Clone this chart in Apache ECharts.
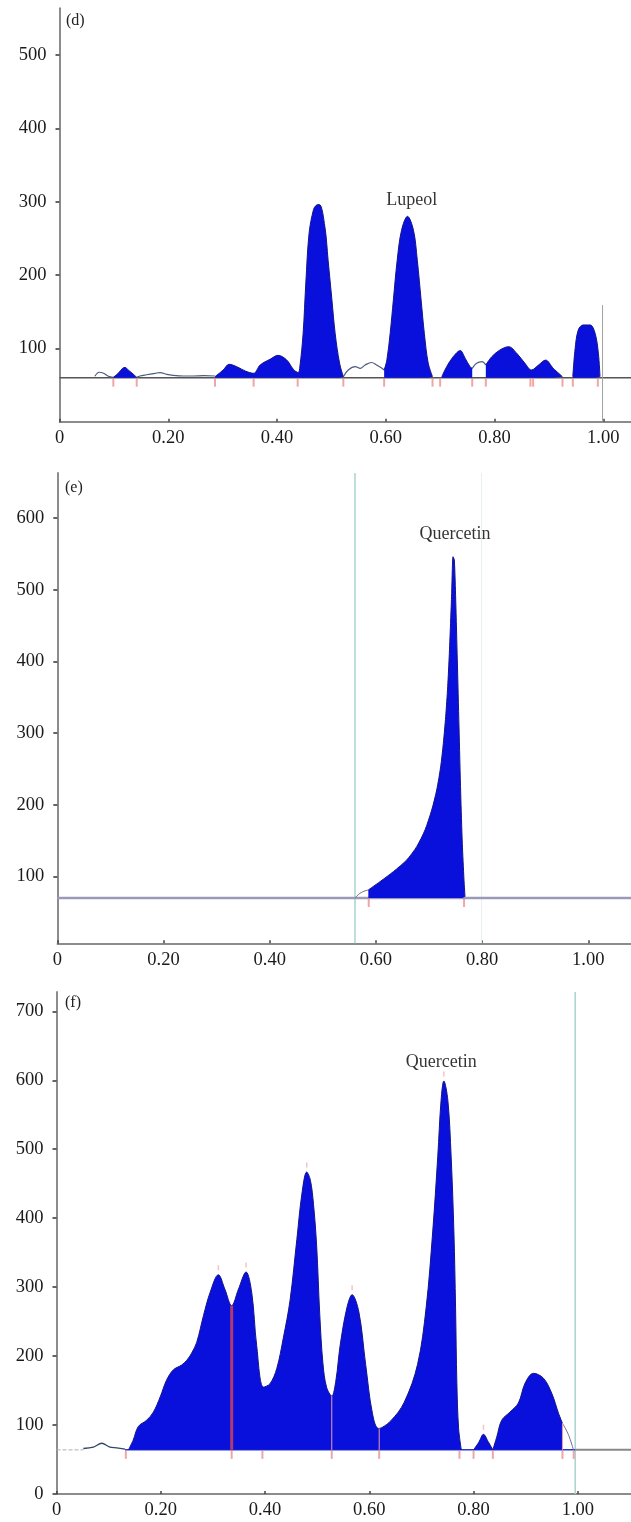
<!DOCTYPE html>
<html><head><meta charset="utf-8">
<script src="https://cdn.jsdelivr.net/npm/echarts@6/dist/echarts.min.js"></script>
<style>html,body{margin:0;padding:0;background:#fff}#c{width:631px;height:1522px}</style>
</head><body><div id="c"></div>
<script>
// ---------- tick labels ----------
const xTicks = [0, 0.2, 0.4, 0.6, 0.8, 1.0];
const dYTicks = [100, 200, 300, 400, 500];
const eYTicks = [100, 200, 300, 400, 500, 600];
const fYTicks = [0, 100, 200, 300, 400, 500, 600, 700];

// ---------- panel (d) : Rf vs intensity ----------
const dBase = 60;
const dTraceA = [[0.065,62],[0.073,67.4],[0.081,66],[0.090,62],[0.099,60.5]];
const dPeakA = [[0.099,60.5],[0.108,66],[0.116,72.8],[0.1205,74],[0.1265,70.5],[0.136,64.6],[0.142,60.5]];
const dTraceB = [[0.142,60.5],[0.148,62.3],[0.160,64],[0.176,66],[0.185,67],[0.197,64.6],[0.209,63.2],[0.228,62.3],[0.246,62.3],[0.265,62.7],[0.286,62.3]];
const dPeakB = [[0.286,61.4],[0.301,70.5],[0.312,78.3],[0.326,75],[0.342,69],[0.357,66],[0.369,77.3],[0.387,85],[0.402,90.5],[0.418,84],[0.430,71.5],[0.439,67],[0.442,75],[0.448,120],[0.453,189],[0.459,257],[0.467,289],[0.472,295],[0.478,296],[0.488,266],[0.494,220],[0.501,166],[0.507,120],[0.515,80],[0.522,61.4]];
const dTraceC = [[0.522,61.4],[0.531,70.5],[0.544,75],[0.553,72.8],[0.562,77.3],[0.574,80.7],[0.583,77.3],[0.593,72.8],[0.597,70.5]];
const dPeakC = [[0.597,70.5],[0.602,84],[0.608,120],[0.614,166],[0.621,220],[0.629,261],[0.640,280],[0.651,261],[0.658,220],[0.665,166],[0.671,120],[0.678,80],[0.686,61.4]];
const dPeakD = [[0.703,61.4],[0.712,75],[0.724,88.6],[0.737,97],[0.746,86.5],[0.755,75],[0.759,72.8]];
const dTraceD = [[0.759,72.8],[0.767,79.6],[0.777,81.8],[0.784,77.3]];
const dPeakE = [[0.784,77.3],[0.795,88.6],[0.810,97.8],[0.826,102.3],[0.841,93.2],[0.856,79.6],[0.868,70.5],[0.881,77.3],[0.894,84],[0.908,72.8],[0.925,61.4]];
const dPeakF = [[0.944,61.4],[0.948,97.8],[0.954,125],[0.963,131.9],[0.976,131.9],[0.985,120.5],[0.991,93.2],[0.994,61.4]];
const dMarks = [0.099,0.142,0.286,0.357,0.438,0.522,0.597,0.686,0.700,0.759,0.784,0.866,0.871,0.925,0.944,0.990];
const dFrontX = 0.9987, dFrontTop = 159;
const dPeakName = 'Lupeol', dPeakNameAt = [0.648, 302];

// ---------- panel (e) ----------
const eBase = 70;
const eTrace = [[0.5606,70],[0.570,76.6],[0.5795,80],[0.5857,81.2]];
const ePeak = [[0.5857,81.2],[0.6077,92.8],[0.6328,106.7],[0.658,123],[0.6768,141.6],[0.6925,164.9],[0.7051,192.7],[0.7145,220.6],[0.722,253.1],[0.727,285.8],[0.7314,322.9],[0.7352,364.7],[0.7383,411.3],[0.7408,457.7],[0.7427,495],[0.7439,527.5],[0.7452,546],[0.7477,541.4],[0.7503,485.6],[0.7533,402],[0.7565,309],[0.7597,216],[0.7627,146.3],[0.7659,95],[0.7678,71.8]];
const eMarks = [0.5865, 0.766];
const eStartX = 0.5606, eFrontX = 0.799;
const ePeakName = 'Quercetin', ePeakNameAt = [0.749, 578];

// ---------- panel (f) ----------
const fBase = 64;
const fTraceA = [[0.0515,66],[0.0706,68],[0.0867,73.6],[0.1026,68],[0.1155,67],[0.1314,65]];
const fPeakA = [[0.138,64],[0.147,78],[0.157,98],[0.173,107],[0.186,119],[0.199,141],[0.211,165],[0.224,180],[0.240,187],[0.250,194],[0.259,204],[0.269,220],[0.282,259],[0.2945,292],[0.3105,318],[0.323,297],[0.336,273],[0.349,297],[0.3636,322],[0.3745,292],[0.384,215],[0.397,155],[0.4096,160],[0.4225,182],[0.435,226],[0.448,281],[0.461,369],[0.4705,434],[0.480,467],[0.487,455],[0.493,420],[0.499,360],[0.505,260],[0.511,190],[0.518,155],[0.528,142],[0.536,165],[0.544,215],[0.557,270],[0.567,289],[0.580,264],[0.593,188],[0.606,117],[0.618,95],[0.641,106],[0.667,133],[0.6926,188],[0.709,270],[0.7216,380],[0.7313,489],[0.7377,571],[0.743,599],[0.7507,571],[0.757,489],[0.7623,380],[0.7655,270],[0.768,160],[0.7713,95],[0.7765,64]];
const fPeakB = [[0.800,64],[0.810,75],[0.819,86.6],[0.828,76],[0.837,64]];
const fPeakC = [[0.837,64],[0.8446,83],[0.854,107],[0.870,119],[0.886,132],[0.899,161],[0.915,175],[0.934,168],[0.950,146],[0.963,117],[0.9705,102.6]];
const fTraceB = [[0.9705,102.6],[0.982,86],[0.9916,64]];
const fMarks = [0.133,0.336,0.395,0.528,0.619,0.773,0.800,0.837,0.9705,0.992];
const fApexMarks = [[0.3105,318],[0.3636,322],[0.480,467],[0.567,289],[0.743,599],[0.819,86.6]];
const fSplitX = 0.336, fSplitTop = 273;
const fCuts = [[0.528,142],[0.619,95],[0.9705,102.6]];
const fFrontX = 0.995;
const fPeakName = 'Quercetin', fPeakNameAt = [0.738, 626];

// ---------- styling ----------
const FILL = '#0a10dc';
const EDGE = '#14148a';
const SERIF = '"Liberation Serif", "Times New Roman", serif';
const TICK_FS = 18.5;
const fmtX = v => v === 0 ? '0' : v.toFixed(2);

function xAxis(gi, max){
  return {gridIndex:gi, type:'value', min:0, max:max,
    axisLine:{show:true, onZero:false, lineStyle:{color:'#666', width:1.5}},
    axisTick:{show:true, inside:true, length:3, customValues:xTicks, lineStyle:{color:'#444', width:1.5}},
    axisLabel:{customValues:xTicks, formatter:fmtX, margin:7, fontFamily:SERIF, fontSize:TICK_FS, color:'#1a1a1a'},
    splitLine:{show:false}};
}
function yAxis(gi, min, max, ticks){
  return {gridIndex:gi, type:'value', min:min, max:max,
    axisLine:{show:true, onZero:false, lineStyle:{color:'#8c8c8c', width:2}},
    axisTick:{show:true, length:4, customValues:ticks, lineStyle:{color:'#333', width:1.5}},
    axisLabel:{customValues:ticks, margin:13, fontFamily:SERIF, fontSize:TICK_FS, color:'#1a1a1a'},
    splitLine:{show:false}};
}
function line(gi, data, color, width, z, extra){
  return Object.assign({type:'line', xAxisIndex:gi, yAxisIndex:gi, data:data, symbol:'none',
    smooth:0.35, lineStyle:{color:color, width:width}, z:z, silent:true}, extra||{});
}
function fill(gi, data, base, smooth){
  return {type:'line', xAxisIndex:gi, yAxisIndex:gi, data:data, symbol:'none',
    smooth:smooth, lineStyle:{color:EDGE, width:1},
    areaStyle:{color:FILL, opacity:1, origin:base}, z:4, silent:true};
}
function marks(gi, xs, base){
  return {type:'scatter', xAxisIndex:gi, yAxisIndex:gi, data:xs.map(x=>[x,base]),
    symbol:'rect', symbolSize:[2,8], symbolOffset:[0,5], itemStyle:{color:'#ef8f8f'}, z:5, silent:true};
}
function vline(gi, x, y0, y1, color, width, z){
  return {type:'line', xAxisIndex:gi, yAxisIndex:gi, data:[[x,y0],[x,y1]], symbol:'none',
    lineStyle:{color:color, width:width}, z:z, silent:true};
}
function nameLabel(gi, at, text){
  return {type:'scatter', xAxisIndex:gi, yAxisIndex:gi, data:[at], symbolSize:0, z:6, silent:true,
    label:{show:true, position:'inside', formatter:text, fontFamily:SERIF, fontSize:18, color:'#000'}};
}

const dMax = 1.051, eMax = 1.0804, fMax = 1.102;
const dYMax = 563.7, eYMin = 6.8, eYMax = 662.8, fYMax = 728;
const SM = 0.35;

const series = [
  // (d)
  line(0, [[0,dBase],[dMax,dBase]], '#555', 1.5, 2, {smooth:false}),
  line(0, dTraceA, '#4a5a80', 1.2, 3),
  line(0, dTraceB, '#4a5a80', 1.2, 3),
  line(0, dTraceC, '#4a5a80', 1.2, 3),
  line(0, dTraceD, '#4a5a80', 1.2, 3),
  fill(0, dPeakA, dBase, SM), fill(0, dPeakB, dBase, SM), fill(0, dPeakC, dBase, SM),
  fill(0, dPeakD, dBase, SM), fill(0, dPeakE, dBase, SM), fill(0, dPeakF, dBase, SM),
  marks(0, dMarks, dBase),
  vline(0, dFrontX, 0, dFrontTop, '#a0a0a0', 1, 3),
  nameLabel(0, dPeakNameAt, dPeakName),
  // (e)
  vline(1, eStartX, eYMin, eYMax, '#a9d3cf', 1.5, 1),
  vline(1, eFrontX, eYMin, eYMax, '#e6eeee', 1, 1),
  line(1, [[0,eBase],[eMax,eBase]], '#9a9ab8', 2.5, 2, {smooth:false}),
  line(1, eTrace, '#777', 1, 3),
  fill(1, ePeak, eBase, 0.25),
  marks(1, eMarks, eBase),
  nameLabel(1, ePeakNameAt, ePeakName),
  // (f)
  vline(2, fFrontX, 0, fYMax, '#a9d3cf', 1.5, 1),
  line(2, [[0,fBase],[fTraceA[0][0],fBase]], '#b0b0b0', 1, 2, {smooth:false, lineStyle:{color:'#b0b0b0', width:1, type:'dashed'}}),
  line(2, [[fTraceA[fTraceA.length-1][0],fBase],[fFrontX,fBase]], '#2838c8', 1.5, 2, {smooth:false}),
  line(2, [[fFrontX,fBase],[fMax,fBase]], '#888', 2, 2, {smooth:false}),
  line(2, fTraceA, '#334466', 1.3, 3),
  line(2, fTraceB, '#7a6a9a', 1, 3),
  fill(2, fPeakA, fBase, SM), fill(2, fPeakB, fBase, SM), fill(2, fPeakC, fBase, SM),
  vline(2, fSplitX, fBase, fSplitTop, '#b03a6e', 3, 5),
].concat(fCuts.map(c => vline(2, c[0], fBase, c[1], '#f09aa8', 1, 5))).concat([
  marks(2, fMarks, fBase),
  {type:'scatter', xAxisIndex:2, yAxisIndex:2, data:fApexMarks, symbol:'rect', symbolSize:[1.5,5],
   symbolOffset:[0,-7], itemStyle:{color:'#f4b4b4'}, z:5, silent:true},
  nameLabel(2, fPeakNameAt, fPeakName)
]);

const chart = echarts.init(document.getElementById('c'), null, {renderer:'canvas'});
chart.setOption({
  animation:false,
  backgroundColor:'#ffffff',
  grid:[
    {left:59.5, top:8.3, width:571.5, height:413.4, containLabel:false, outerBoundsMode:'none'},
    {left:57.3, top:473, width:573.7, height:470.3, containLabel:false, outerBoundsMode:'none'},
    {left:56.5, top:992, width:574.5, height:502, containLabel:false, outerBoundsMode:'none'}
  ],
  xAxis:[xAxis(0,dMax), xAxis(1,eMax), xAxis(2,fMax)],
  yAxis:[yAxis(0,0,dYMax,dYTicks), yAxis(1,eYMin,eYMax,eYTicks), yAxis(2,0,fYMax,fYTicks)],
  graphic:[
    {type:'text', left:66, top:13, style:{text:'(d)', font:'16px ' + SERIF, fill:'#222'}},
    {type:'text', left:65, top:480, style:{text:'(e)', font:'16px ' + SERIF, fill:'#222'}},
    {type:'text', left:65, top:995, style:{text:'(f)', font:'16px ' + SERIF, fill:'#222'}}
  ],
  series:series
});
</script></body></html>
